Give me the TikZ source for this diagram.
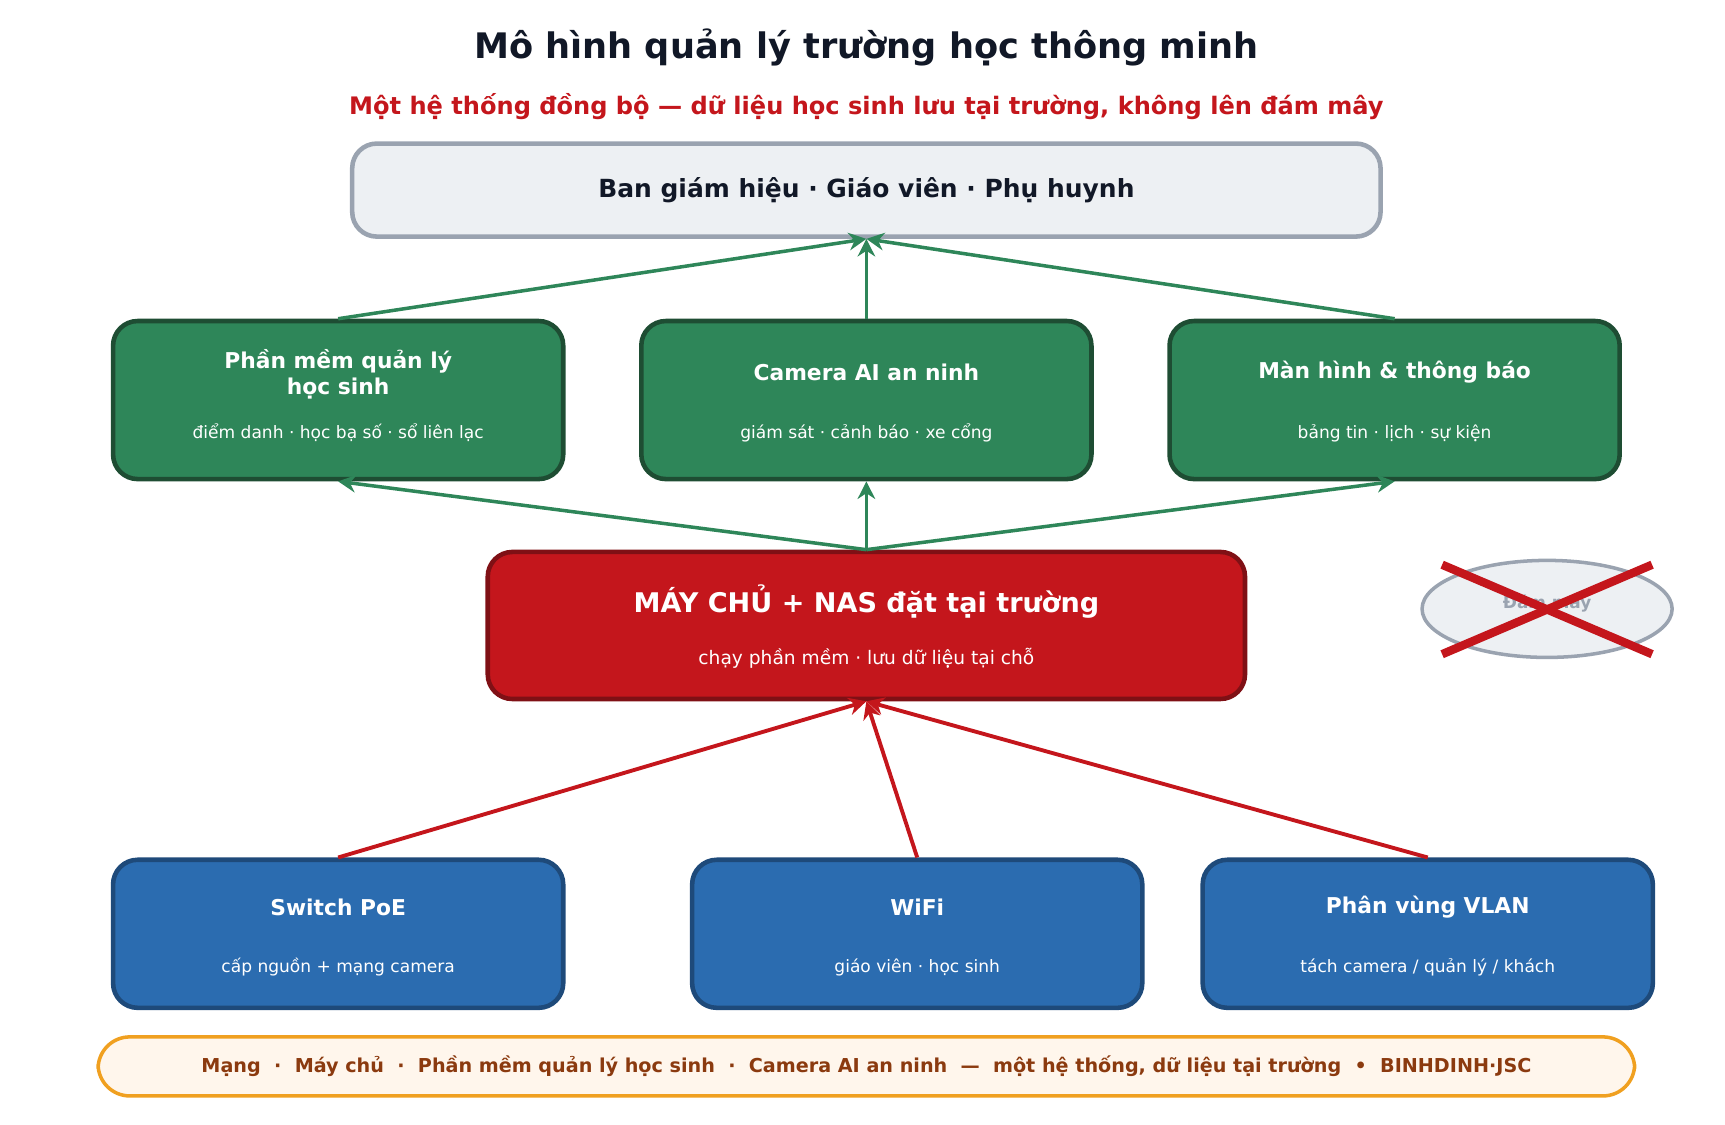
\documentclass[tikz,border=0pt]{standalone}
\usepackage{fontspec}
\setmainfont{DejaVu Sans}
\usepackage{tikz}
\usetikzlibrary{positioning,arrows.meta,shapes.geometric}
\definecolor{TitleInk}{HTML}{111827}
\definecolor{AlertRed}{HTML}{C4161C}
\definecolor{AlertRedDark}{HTML}{7F1015}
\definecolor{AppGreen}{HTML}{2E8659}
\definecolor{AppGreenDark}{HTML}{1E4D33}
\definecolor{NetBlue}{HTML}{2B6CB0}
\definecolor{NetBlueDark}{HTML}{1E4A7A}
\definecolor{UserGray}{HTML}{EDF0F3}
\definecolor{UserGrayLine}{HTML}{9AA3B0}
\definecolor{FootFill}{HTML}{FFF6EC}
\definecolor{FootLine}{HTML}{F0A020}
\definecolor{FootInk}{HTML}{8B3A0F}
\tikzset{
	box/.style={rounded corners=7pt, line width=1.3pt, align=center, text=white},
	appbox/.style={box, fill=AppGreen, draw=AppGreenDark, minimum width=4.5cm, minimum height=1.58cm},
	netbox/.style={box, fill=NetBlue, draw=NetBlueDark, minimum width=4.5cm, minimum height=1.48cm},
	upG/.style={-{Stealth[length=5pt,width=5pt]}, AppGreen, line width=1pt},
	upR/.style={-{Stealth[length=5pt,width=5pt]}, AlertRed, line width=1.1pt},
	hd/.style={font=\fontsize{6.2}{7.4}\selectfont\bfseries},
	sb/.style={font=\fontsize{4.85}{5.6}\selectfont}
}
\begin{document}
\begin{tikzpicture}[x=0.01105cm, y=-0.01105cm]
	\useasboundingbox (0,0) rectangle (1561,1018);
	\node[text=TitleInk, font=\fontsize{10}{11}\selectfont\bfseries] (title) at (784,43) {Mô hình quản lý trường học thông minh};
	\node[text=AlertRed, font=\fontsize{6.85}{8}\selectfont\bfseries] (subtitle) at (784,96) {Một hệ thống đồng bộ — dữ liệu học sinh lưu tại trường, không lên đám mây};
	\node[box, fill=UserGray, draw=UserGrayLine, text=TitleInk, minimum width=10.28cm, minimum height=0.93cm, font=\fontsize{7.1}{8}\selectfont\bfseries] (users) at (784,172) {Ban giám hiệu · Giáo viên · Phụ huynh};
	% green row
	\node[appbox] (sis) at (306,362) {};
	\node[hd, text=white, align=center] at (306,339) {Phần mềm quản lý\\học sinh};
	\node[sb, text=white] at (306,392) {điểm danh · học bạ số · sổ liên lạc};
	\node[appbox] (cam) at (784,362) {};
	\node[hd, text=white] at (784,337) {Camera AI an ninh};
	\node[sb, text=white] at (784,392) {giám sát · cảnh báo · xe cổng};
	\node[appbox] (screen) at (1262,362) {};
	\node[hd, text=white] at (1262,337) {Màn hình \& thông báo};
	\node[sb, text=white] at (1262,392) {bảng tin · lịch · sự kiện};
	% server
	\node[box, fill=AlertRed, draw=AlertRedDark, minimum width=7.57cm, minimum height=1.47cm] (server) at (784,566) {};
	\node[text=white, font=\fontsize{7.7}{9}\selectfont\bfseries] at (784,544) {MÁY CHỦ + NAS đặt tại trường};
	\node[text=white, font=\fontsize{5.3}{6}\selectfont] at (784,596) {chạy phần mềm · lưu dữ liệu tại chỗ};
	% cloud, crossed out
	\node[ellipse, fill=UserGray, draw=UserGrayLine, line width=1pt, minimum width=2.5cm, minimum height=0.97cm] (cloud) at (1400,551) {};
	\node[text=UserGrayLine, font=\fontsize{4.8}{6}\selectfont\bfseries] at (1400,546) {Đám mây};
	\draw[AlertRed, line width=2.4pt] (1305,511) -- (1495,592);
	\draw[AlertRed, line width=2.4pt] (1305,592) -- (1495,511);
	% blue row
	\node[netbox] (poe) at (306,845) {};
	\node[hd, text=white] at (306,821) {Switch PoE};
	\node[sb, text=white] at (306,875) {cấp nguồn + mạng camera};
	\node[netbox] (wifi) at (830,845) {};
	\node[hd, text=white] at (830,821) {WiFi};
	\node[sb, text=white] at (830,875) {giáo viên · học sinh};
	\node[netbox] (vlan) at (1292,845) {};
	\node[hd, text=white] at (1292,821) {Phân vùng VLAN};
	\node[sb, text=white] at (1292,875) {tách camera / quản lý / khách};
	% arrows
	\draw[upG] (sis.north) -- (users.south);
	\draw[upG] (cam.north) -- (users.south);
	\draw[upG] (screen.north) -- (users.south);
	\draw[upG] (server.north) -- (sis.south);
	\draw[upG] (server.north) -- (cam.south);
	\draw[upG] (server.north) -- (screen.south);
	\draw[upR] (poe.north) -- (server.south);
	\draw[upR] (wifi.north) -- (server.south);
	\draw[upR] (vlan.north) -- (server.south);
	% footer
	\node[rounded corners=9pt, fill=FootFill, draw=FootLine, line width=1pt, minimum width=15.36cm, minimum height=0.59cm, text=FootInk, font=\fontsize{5.45}{6.5}\selectfont\bfseries] (footer) at (784,965) {Mạng \ · \ Máy chủ \ · \ Phần mềm quản lý học sinh \ · \ Camera AI an ninh \ — \ một hệ thống, dữ liệu tại trường \ • \ BINHDINH·JSC};
\end{tikzpicture}
\end{document}
